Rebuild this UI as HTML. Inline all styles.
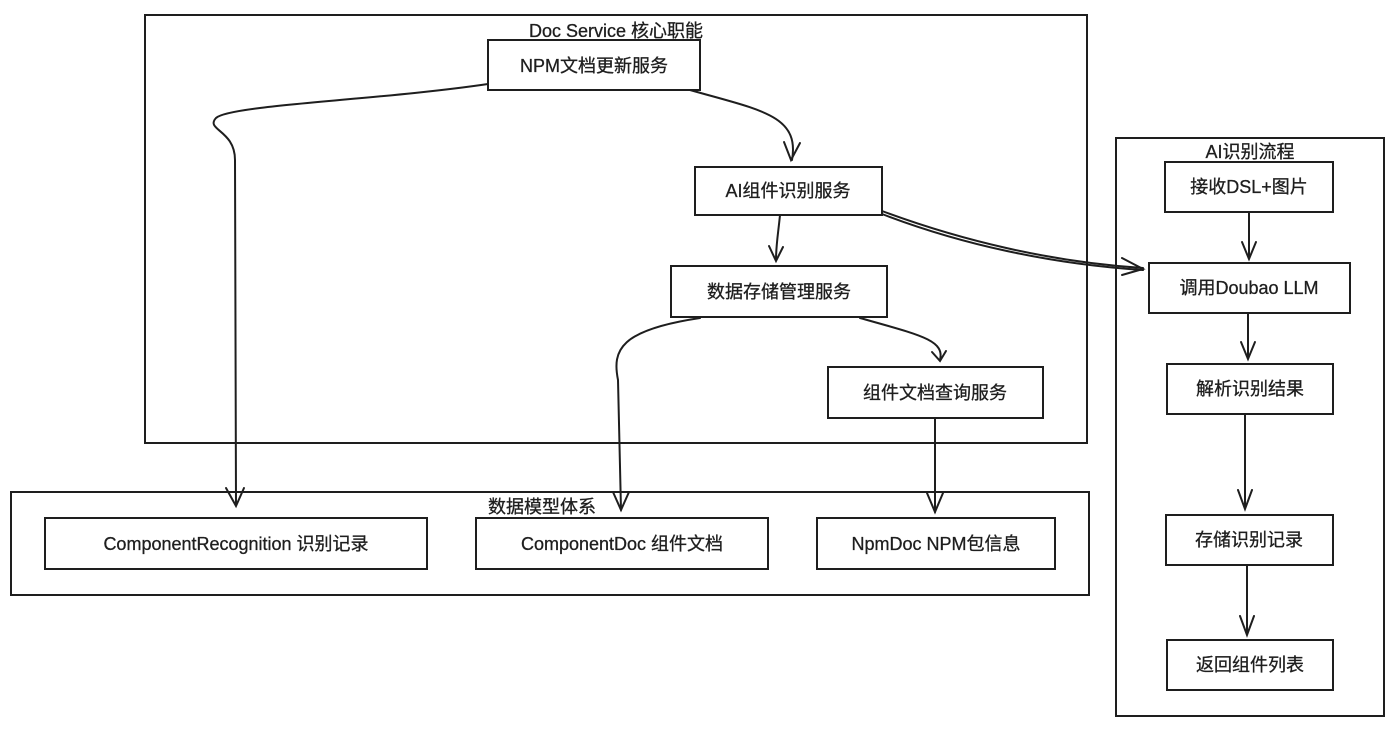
<!DOCTYPE html>
<html><head><meta charset="utf-8"><style>
html,body{margin:0;padding:0;background:#fff;}
svg{display:block}
text{font-family:"Liberation Sans","Noto Sans CJK SC",sans-serif;fill:#1e1e1e;stroke:#1e1e1e;stroke-width:0.3px;}
</style></head><body>
<svg width="1397" height="731" viewBox="0 0 1397 731" xmlns="http://www.w3.org/2000/svg">
<g fill="none" stroke="#1e1e1e" stroke-width="2">
<rect x="145" y="15" width="942" height="428"/>
<rect x="11" y="492" width="1078" height="103"/>
<rect x="1116" y="138" width="268" height="578"/>
<rect x="488" y="40" width="212" height="50" fill="#fff"/>
<rect x="695" y="167" width="187" height="48"/>
<rect x="671" y="266" width="216" height="51"/>
<rect x="828" y="367" width="215" height="51"/>
<rect x="45" y="518" width="382" height="51"/>
<rect x="476" y="518" width="292" height="51"/>
<rect x="817" y="518" width="238" height="51"/>
<rect x="1165" y="162" width="168" height="50"/>
<rect x="1149" y="263" width="201" height="50"/>
<rect x="1167" y="364" width="166" height="50"/>
<rect x="1166" y="515" width="167" height="50"/>
<rect x="1167" y="640" width="166" height="50"/>
</g>
<g fill="none" stroke="#1e1e1e" stroke-width="2" stroke-linecap="round">
<path d="M488 84 C380 100 230 105 216 118 C205 130 235 130 235 160 L236 505"/>
<path d="M226 488 L236 506 L244 488"/>
<path d="M690 90 C760 110 800 115 792 160"/>
<path d="M784 142 L791 160 L800 143"/>
<path d="M780 215 C778 235 776 245 776 260"/>
<path d="M769 246 L776 261 L783 247"/>
<path d="M882 211 C960 240 1050 262 1143 268"/>
<path d="M882 214 C960 244 1050 264 1143 270"/>
<path d="M1122 258 L1143 269 L1122 275"/>
<path d="M700 318 C620 330 612 350 618 380 L621 510"/>
<path d="M613 492 L621 510 L629 492"/>
<path d="M860 318 C920 335 945 340 940 360"/>
<path d="M932 352 L940 361 L946 351"/>
<path d="M935 418 L935 512"/>
<path d="M927 493 L935 512 L943 493"/>
<path d="M1249 212 L1249 258"/>
<path d="M1242 242 L1249 259 L1256 242"/>
<path d="M1248 313 L1248 358"/>
<path d="M1241 342 L1248 359 L1255 342"/>
<path d="M1245 414 L1245 508"/>
<path d="M1238 490 L1245 509 L1252 490"/>
<path d="M1247 565 L1247 634"/>
<path d="M1240 616 L1247 635 L1254 616"/>
</g>
<g font-size="18" text-anchor="middle">
<text x="616" y="37">Doc Service 核心职能</text>
<text x="594" y="72">NPM文档更新服务</text>
<text x="788" y="197">AI组件识别服务</text>
<text x="779" y="298">数据存储管理服务</text>
<text x="935" y="399">组件文档查询服务</text>
<text x="542" y="513">数据模型体系</text>
<text x="236" y="550">ComponentRecognition 识别记录</text>
<text x="622" y="550">ComponentDoc 组件文档</text>
<text x="936" y="550">NpmDoc NPM包信息</text>
<text x="1250" y="158">AI识别流程</text>
<text x="1249" y="193">接收DSL+图片</text>
<text x="1249" y="294">调用Doubao LLM</text>
<text x="1250" y="395">解析识别结果</text>
<text x="1249" y="546">存储识别记录</text>
<text x="1250" y="671">返回组件列表</text>
</g>
</svg>
</body></html>
